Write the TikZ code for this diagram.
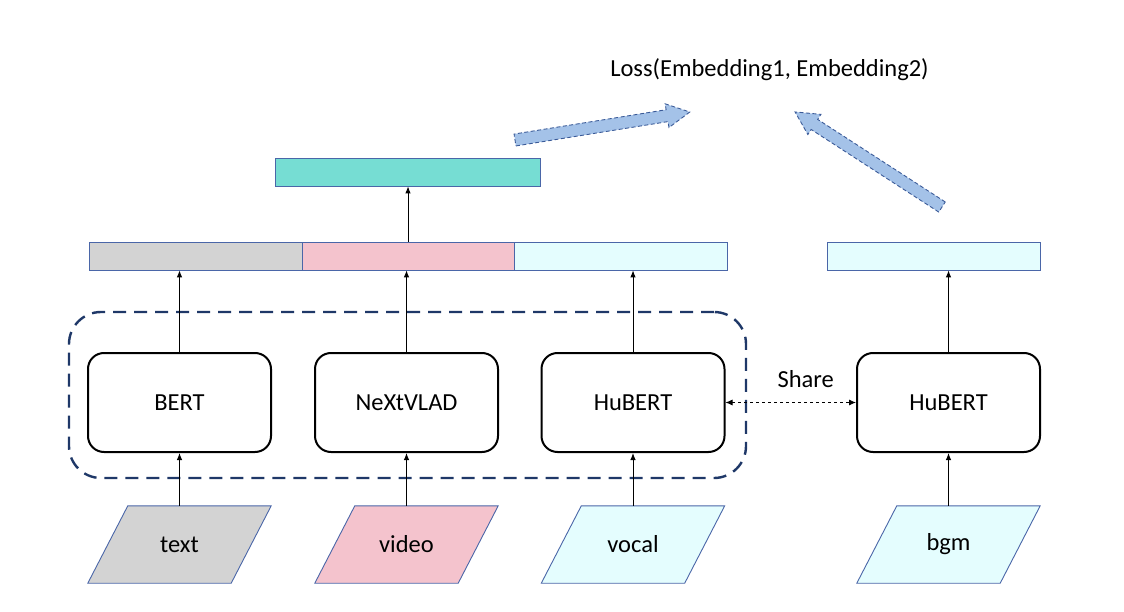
\documentclass[tikz,border=0pt]{standalone}
\usepackage{fontspec}
\setmainfont{Carlito}
\usetikzlibrary{arrows.meta}
\definecolor{edgeblue}{HTML}{4A66A8}
\definecolor{navy}{HTML}{1F3868}
\definecolor{cgray}{HTML}{D3D3D3}
\definecolor{cpink}{HTML}{F4C3CD}
\definecolor{ccyan}{HTML}{E4FDFE}
\definecolor{cteal}{HTML}{76DDD3}
\definecolor{bigarrow}{HTML}{A4C2E8}
\definecolor{bigedge}{HTML}{3A5A98}
\tikzset{
  lbl/.style={font=\fontsize{24.5}{28}\selectfont},
  bar/.style={draw=edgeblue, line width=0.8pt, minimum height=28pt, inner sep=0pt},
  enc/.style={draw=black, line width=2pt, rounded corners=16pt, minimum width=183pt, minimum height=99pt, lbl},
  inp/.style={minimum width=143pt, minimum height=77pt, inner sep=0pt, lbl},
  para/.style={draw=edgeblue, line width=0.9pt},
  grp/.style={draw=navy, line width=2.4pt, dash pattern=on 13pt off 8pt, rounded corners=32pt, minimum width=677pt, minimum height=166pt},
  conn/.style={-{Latex[length=7pt,width=5.5pt]}, line width=0.9pt},
  shr/.style={{Latex[length=7pt,width=6pt]}-{Latex[length=7pt,width=6pt]}, dashed, line width=0.8pt},
  fat/.style={fill=bigarrow, draw=bigedge, line width=0.9pt, dash pattern=on 4pt off 2.5pt},
}
\begin{document}
\begin{tikzpicture}[x=1pt,y=1pt]
\useasboundingbox (0,0) rectangle (1124,-612);
% loss text
\node[lbl] (loss) at (769.5,-70) {Loss(Embedding1, Embedding2)};
% dashed group
\node[grp] (grp) at (407.5,-395) {};
% encoder boxes
\node[enc] (bert) at (179.5,-402.5) {BERT};
\node[enc] (nxv) at (406.5,-402.5) {NeXtVLAD};
\node[enc] (hub1) at (633,-402.5) {HuBERT};
\node[enc] (hub2) at (948.5,-402.5) {HuBERT};
% inputs
\node[inp] (tin) at (179.5,-544.5) {};
\node[inp] (vin) at (406.5,-544.5) {};
\node[inp] (ain) at (633,-544.5) {};
\node[inp] (bin) at (948.5,-544.5) {};
\foreach \n/\c in {tin/cgray, vin/cpink, ain/ccyan, bin/ccyan}{
  \draw[para, fill=\c] ([xshift=-20pt]\n.south west) -- ([xshift=20pt]\n.north west) -- ([xshift=20pt]\n.north east) -- ([xshift=-20pt]\n.south east) -- cycle;
}
\node[lbl] (tlab) at (tin) {text};
\node[lbl] (vlab) at (vin) {video};
\node[lbl] (alab) at (ain) {vocal};
\node[lbl] (blab) at (bin) {bgm};
% bars
\node[bar, fill=cgray, minimum width=213pt] (bg) at (195.5,-256) {};
\node[bar, fill=cpink, minimum width=212pt] (bp) at (408,-256) {};
\node[bar, fill=ccyan, minimum width=213pt] (bc) at (620.5,-256) {};
\node[bar, fill=ccyan, minimum width=213pt] (br) at (933.5,-256) {};
\node[bar, fill=cteal, minimum width=265pt] (top) at (407.5,-172) {};
% connectors
\draw[conn] (tin.north) -- (bert.south);
\draw[conn] (vin.north) -- (nxv.south);
\draw[conn] (ain.north) -- (hub1.south);
\draw[conn] (bin.north) -- (hub2.south);
\draw[conn] (bert.north) -- (bert.north |- bg.south);
\draw[conn] (nxv.north) -- (nxv.north |- bp.south);
\draw[conn] (hub1.north) -- (hub1.north |- bc.south);
\draw[conn] (hub2.north) -- (hub2.north |- br.south);
\draw[conn] (bp.north) -- (bp.north |- top.south);
\draw[shr] (hub1.east) -- (hub2.west) node[midway, above=11pt, xshift=15pt, lbl] (share) {Share};
% big arrows
\begin{scope}[shift={(515,-140)}, rotate=9.09]
\draw[fat] (0,-6) -- (154,-6) -- (154,-12) -- (177,0) -- (154,12) -- (154,6) -- (0,6) -- cycle;
\end{scope}
\begin{scope}[shift={(942,-207)}, rotate=147.1]
\draw[fat] (0,-6) -- (152,-6) -- (152,-12) -- (175,0) -- (152,12) -- (152,6) -- (0,6) -- cycle;
\end{scope}
\end{tikzpicture}
\end{document}
